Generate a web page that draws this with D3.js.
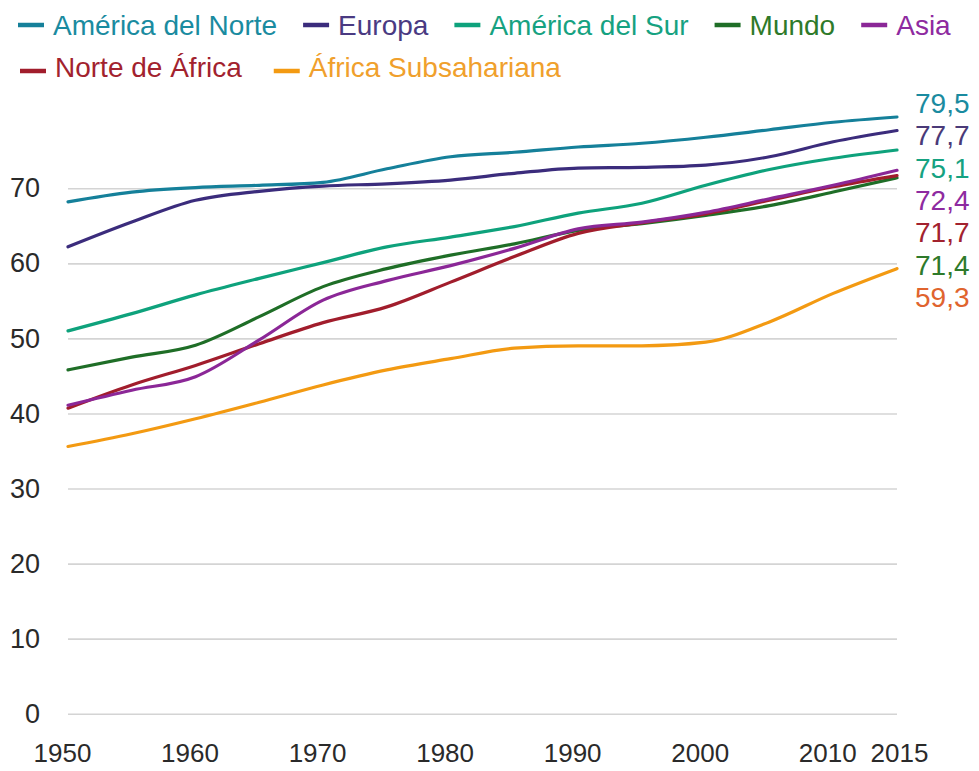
<!DOCTYPE html>
<html>
<head>
<meta charset="utf-8">
<script src="https://cdn.jsdelivr.net/npm/d3@7"></script>
<style>
  html, body { margin: 0; padding: 0; background: #ffffff; }
  svg { display: block; font-family: "Liberation Sans", Arial, Helvetica, sans-serif; }
</style>
</head>
<body>
<svg id="chart" width="979" height="771"></svg>
<script>
// ---- data ----
const years = [1950, 1955, 1960, 1965, 1970, 1975, 1980, 1985, 1990, 1995, 2000, 2005, 2010, 2015];
const seriesNames = ["América del Norte", "Europa", "América del Sur", "Mundo", "Asia", "Norte de África", "África Subsahariana"];
const americaNorte = [68.2, 69.5, 70.1, 70.4, 70.8, 72.6, 74.2, 74.8, 75.5, 76.0, 76.8, 77.8, 78.8, 79.5];
const europa       = [62.2, 65.5, 68.4, 69.6, 70.3, 70.6, 71.1, 72.0, 72.7, 72.8, 73.1, 74.2, 76.2, 77.7];
const americaSur   = [51.0, 53.3, 55.8, 58.0, 60.1, 62.2, 63.5, 64.9, 66.7, 68.0, 70.4, 72.5, 74.0, 75.1];
const mundo        = [45.8, 47.5, 49.1, 52.9, 56.9, 59.3, 61.1, 62.6, 64.4, 65.3, 66.4, 67.7, 69.5, 71.4];
const asia         = [41.1, 43.1, 44.9, 49.8, 55.1, 57.7, 59.7, 62.0, 64.6, 65.5, 66.8, 68.6, 70.4, 72.4];
const norteAfrica  = [40.7, 43.8, 46.4, 49.3, 52.1, 54.2, 57.5, 60.9, 64.0, 65.4, 66.6, 68.4, 70.2, 71.7];
const africaSubs   = [35.6, 37.3, 39.3, 41.5, 43.8, 45.8, 47.3, 48.7, 49.0, 49.0, 49.5, 52.2, 56.0, 59.3];
const endLabels = ["79,5", "77,7", "75,1", "72,4", "71,7", "71,4", "59,3"];
const endLabelSeries = ["América del Norte", "Europa", "América del Sur", "Asia", "Norte de África", "Mundo", "África Subsahariana"];
const yTicks = [0, 10, 20, 30, 40, 50, 60, 70];
const xTicks = [1950, 1960, 1970, 1980, 1990, 2000, 2010, 2015];

const seriesValues = [americaNorte, europa, americaSur, mundo, asia, norteAfrica, africaSubs];
const lineColors = {
  "América del Norte": "#15809a",
  "Europa": "#3b2c7c",
  "América del Sur": "#0ea27c",
  "Mundo": "#1f6e27",
  "Asia": "#8b2797",
  "Norte de África": "#a11d2c",
  "África Subsahariana": "#f39a12"
};
const textColors = {
  "América del Norte": "#1a8ba0",
  "Europa": "#4a3a82",
  "América del Sur": "#16a281",
  "Mundo": "#2e7a2a",
  "Asia": "#8e2aa0",
  "Norte de África": "#a2222e",
  "África Subsahariana": "#f0a02c"
};
const endLabelColors = {
  "América del Norte": "#1a8ba0",
  "Europa": "#4a3a78",
  "América del Sur": "#16a281",
  "Asia": "#8e2aa0",
  "Norte de África": "#a2222e",
  "Mundo": "#2e7a2a",
  "África Subsahariana": "#e0642e"
};

// ---- layout ----
const svg = d3.select("#chart");
const plotLeft = 68, plotRight = 897, plotTop = 188.3, plotBottom = 713.7;
const x = d3.scaleLinear().domain([1950, 2015]).range([plotLeft, plotRight]);
const y = d3.scaleLinear().domain([0, 70]).range([plotBottom, plotTop]);

// y axis with gridlines
const yAxis = svg.append("g")
  .attr("transform", `translate(${plotLeft},0)`)
  .call(d3.axisLeft(y).tickValues(yTicks).tickSize(-(plotRight - plotLeft)).tickPadding(28).tickFormat(d3.format("d")));
yAxis.select(".domain").remove();
yAxis.selectAll(".tick line").attr("stroke", "#d4d4d4").attr("stroke-width", 1.6);
yAxis.selectAll(".tick text").attr("fill", "#2a2a2a").attr("font-size", 27).attr("font-family", "Liberation Sans, Arial, sans-serif");

// x axis
const xAxis = svg.append("g")
  .attr("transform", `translate(0,${plotBottom})`)
  .call(d3.axisBottom(x).tickValues(xTicks).tickSize(0).tickPadding(30).tickFormat(d3.format("d")));
xAxis.select(".domain").remove();
xAxis.selectAll(".tick text")
  .attr("fill", "#2a2a2a").attr("font-size", 26).attr("font-family", "Liberation Sans, Arial, sans-serif")
  .attr("dx", d => d === 2015 ? 2 : -6);

// lines
const line = d3.line().x(d => x(d[0])).y(d => y(d[1])).curve(d3.curveMonotoneX);
const drawOrder = ["África Subsahariana", "Mundo", "Norte de África", "Asia", "América del Sur", "Europa", "América del Norte"];
drawOrder.forEach(name => {
  const vals = seriesValues[seriesNames.indexOf(name)];
  svg.append("path")
    .datum(years.map((yr, i) => [yr, vals[i]]))
    .attr("fill", "none")
    .attr("stroke", lineColors[name])
    .attr("stroke-width", 3.2)
    .attr("stroke-linejoin", "round")
    .attr("stroke-linecap", "round")
    .attr("d", line);
});

// end labels
endLabels.forEach((lab, i) => {
  svg.append("text")
    .attr("x", 915)
    .attr("y", 113 + i * 32.3)
    .attr("font-size", 28)
    .attr("fill", endLabelColors[endLabelSeries[i]])
    .text(lab);
});

// legend
const rows = [
  { names: seriesNames.slice(0, 5), x0: 18, base: 35, sw: 25, gap: 26 },
  { names: seriesNames.slice(5), x0: 20, base: 77, sw: 71, gap: 32 }
];
rows.forEach(row => {
  let cx = row.x0;
  row.names.forEach(name => {
    svg.append("line")
      .attr("x1", cx).attr("x2", cx + 26)
      .attr("y1", row.sw).attr("y2", row.sw)
      .attr("stroke", lineColors[name]).attr("stroke-width", 4.5);
    const t = svg.append("text")
      .attr("x", cx + 35).attr("y", row.base)
      .attr("font-size", 28)
      .attr("fill", textColors[name])
      .text(name);
    cx = cx + 35 + t.node().getComputedTextLength() + row.gap;
  });
});
</script>
</body>
</html>
